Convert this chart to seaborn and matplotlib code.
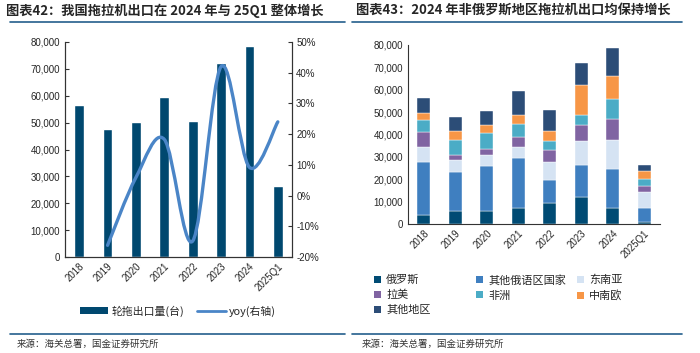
import matplotlib
matplotlib.use("Agg")
import matplotlib.pyplot as plt
from matplotlib.path import Path
from matplotlib.patches import PathPatch, Patch
from matplotlib.lines import Line2D
from matplotlib.ticker import FuncFormatter, FixedLocator
import numpy as np
import pandas as pd
import seaborn as sns

# ---- data ----
years = ["2018", "2019", "2020", "2021", "2022", "2023", "2024", "2025Q1"]
exports = [56700, 47500, 50300, 59500, 50700, 72000, 78600, 26300]
yoy = [None, -16.2, 5.9, 18.3, -14.8, 42.0, 9.2, 24.0]

regions = ["俄罗斯", "其他俄语区国家", "东南亚", "拉美", "非洲", "中南欧", "其他地区"]
russia = [4000, 5650, 5650, 7100, 9400, 11900, 7100, 900]
other_ru = [23700, 17400, 20100, 22300, 10400, 14600, 17700, 6200]
se_asia = [6500, 5400, 5200, 5200, 7700, 10800, 12800, 7200]
latam = [7100, 2500, 2700, 4100, 5700, 7000, 9400, 2900]
africa = [5200, 6700, 7000, 6100, 3700, 4600, 8800, 3000]
cse_europe = [3300, 4000, 3400, 3700, 4700, 13000, 10400, 3300]
others = [6700, 6000, 6300, 11000, 9300, 10200, 12600, 3000]
region_values = [russia, other_ru, se_asia, latam, africa, cse_europe, others]
region_colors = ["#004b74", "#3f7fc0", "#d5e3f3", "#8064a2", "#4bacc6", "#f79646", "#2c4d77"]

BAR_COLOR = "#00486f"
LINE_COLOR = "#4a85c7"
RULE_COLOR = "#245f8c"
CJK = ["Noto Sans CJK SC", "DejaVu Sans"]
NUM = ["Liberation Sans", "DejaVu Sans"]

sns.set_theme(style="white")
plt.rcParams["font.family"] = CJK
plt.rcParams["axes.unicode_minus"] = False

fig = plt.figure(figsize=(7.0, 3.53), dpi=100)


def px(x, y):
    return x / 700, 1 - y / 353


def smooth_path(xs, ys):
    # Excel-style smoothed line: cubic bezier segments through the points
    pts = np.column_stack([xs, ys]).astype(float)
    n = len(pts)
    verts = [pts[0]]
    codes = [Path.MOVETO]
    for i in range(n - 1):
        p0 = pts[i - 1] if i > 0 else pts[i]
        p1, p2 = pts[i], pts[i + 1]
        p3 = pts[i + 2] if i + 2 < n else pts[i + 1]
        verts += [p1 + (p2 - p0) / 6, p2 - (p3 - p1) / 6, p2]
        codes += [Path.CURVE4] * 3
    return Path(verts, codes)


def style_axis(ax):
    for s in ax.spines.values():
        s.set_color("#333333")
        s.set_linewidth(0.8)
    ax.tick_params(axis="y", labelsize=7, length=3, width=0.8, direction="in", color="#333333")
    ax.set_xlabel("")
    ax.set_ylabel("")
    ax.set_xticks(range(len(years)))
    ax.set_xticklabels(years, rotation=45, ha="right", rotation_mode="anchor", fontsize=7, family=NUM)
    ax.tick_params(axis="x", length=0, pad=3)
    ax.xaxis.set_minor_locator(FixedLocator(np.arange(-0.5, len(years), 1.0)))
    for lab in ax.get_yticklabels():
        lab.set_family(NUM)


# ---- left chart ----
axl = fig.add_axes([65 / 700, 1 - 257 / 353, (292 - 65) / 700, (257 - 42) / 353])
df_l = pd.DataFrame({"year": years, "exports": exports})
sns.barplot(data=df_l, x="year", y="exports", color=BAR_COLOR, width=0.34, saturation=1, ax=axl)
axl.set_ylim(0, 80000)
axl.set_xlim(-0.5, len(years) - 0.5)
axl.set_yticks(range(0, 80001, 10000))
axl.yaxis.set_major_formatter(FuncFormatter(lambda v, _: f"{int(v):,}"))
style_axis(axl)
axl.tick_params(axis="x", which="minor", length=3, direction="in", color="#333333")
axl.spines["top"].set_visible(False)

axr = axl.twinx()
axr.set_ylim(-20, 50)
axr.set_yticks(range(-20, 51, 10))
axr.yaxis.set_major_formatter(FuncFormatter(lambda v, _: f"{int(v)}%"))
axr.tick_params(axis="y", labelsize=7, length=3, width=0.8, direction="in", color="#333333", pad=3)
for lab in axr.get_yticklabels():
    lab.set_family(NUM)
for s in axr.spines.values():
    s.set_color("#333333")
    s.set_linewidth(0.8)
axr.spines["top"].set_visible(False)
yx = [i for i, v in enumerate(yoy) if v is not None]
yv = [v for v in yoy if v is not None]
axr.add_patch(PathPatch(smooth_path(yx, yv), facecolor="none", edgecolor=LINE_COLOR,
                        lw=2.4, capstyle="round", joinstyle="round"))

handles_l = [Patch(facecolor=BAR_COLOR, edgecolor="none"),
             Line2D([], [], color=LINE_COLOR, lw=2)]
fig.legend(handles_l, ["轮拖出口量(台)", "yoy(右轴)"], loc="center", bbox_to_anchor=px(178, 311),
           ncol=2, frameon=False, fontsize=7.8, handlelength=2.6, handleheight=0.6,
           columnspacing=1.2, handletextpad=0.3)

# ---- right chart ----
ax2 = fig.add_axes([408 / 700, 1 - 224 / 353, (660 - 408) / 700, (224 - 45) / 353])
bottom = np.zeros(len(years))
for name, vals, col in zip(regions, region_values, region_colors):
    d = pd.DataFrame({"year": years, "v": vals})
    sns.barplot(data=d, x="year", y="v", color=col, width=0.42, saturation=1,
                bottom=bottom, ax=ax2, edgecolor="white", linewidth=0.3)
    bottom = bottom + np.array(vals)
ax2.set_ylim(0, 80000)
ax2.set_xlim(-0.5, len(years) - 0.5)
ax2.set_yticks(range(0, 80001, 10000))
ax2.yaxis.set_major_formatter(FuncFormatter(lambda v, _: f"{int(v):,}"))
style_axis(ax2)
ax2.tick_params(axis="x", which="minor", length=3, direction="out", color="#333333")
ax2.spines["top"].set_visible(False)
ax2.spines["right"].set_visible(False)

# legend in three columns, each placed where the reference has it
columns = [[0, 3, 6], [1, 4], [2, 5]]
for col_x, idx in zip([374, 476, 577], columns):
    hs = [Patch(facecolor=region_colors[i], edgecolor="none") for i in idx]
    fig.legend(hs, [regions[i] for i in idx], loc="upper left", bbox_to_anchor=px(col_x, 275),
               ncol=1, frameon=False, fontsize=8, handlelength=0.6, handleheight=0.6,
               handletextpad=0.5, labelspacing=0.42, borderaxespad=0, borderpad=0)

# ---- titles, rules, sources ----
fig.text(*px(6, 11), "图表42：我国拖拉机出口在 2024 年与 25Q1 整体增长", fontsize=9.5,
         fontweight="bold", style="italic", va="center", ha="left")
fig.text(*px(356, 11), "图表43：2024 年非俄罗斯地区拖拉机出口均保持增长", fontsize=9.5,
         fontweight="bold", style="italic", va="center", ha="left")
for x0, x1 in [(10, 345), (352, 682)]:
    fig.add_artist(Line2D([x0 / 700, x1 / 700], [1 - 22 / 353] * 2, color=RULE_COLOR, lw=1.2))
    fig.add_artist(Line2D([x0 / 700, x1 / 700], [1 - 334 / 353] * 2, color=RULE_COLOR, lw=1.2))
fig.text(*px(17, 344), "来源：海关总署，国金证券研究所", fontsize=6.8, va="center", ha="left", color="#333333")
fig.text(*px(362, 344), "来源：海关总署，国金证券研究所", fontsize=6.8, va="center", ha="left", color="#333333")

fig.savefig("out.png", dpi=100)
